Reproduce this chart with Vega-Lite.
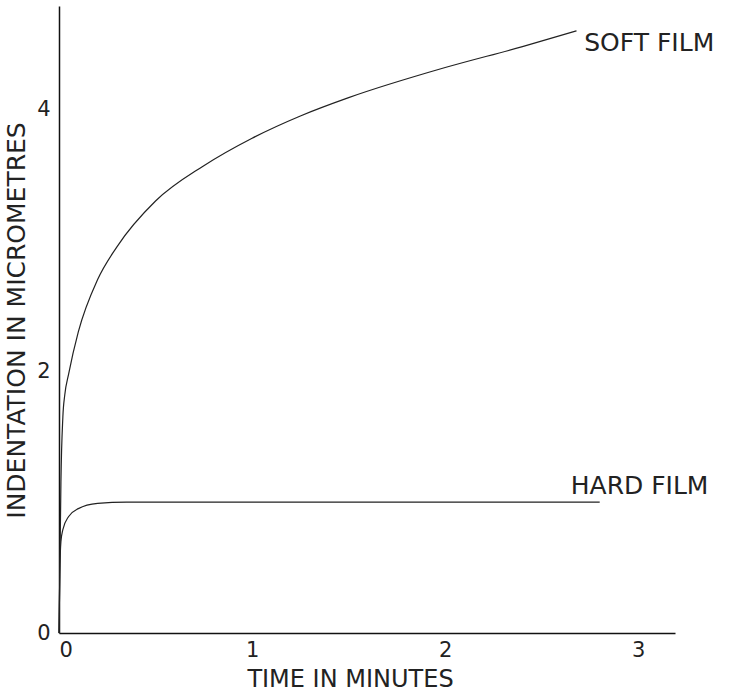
{
  "$schema": "https://vega.github.io/schema/vega-lite/v6.json",
  "width": 616,
  "height": 627,
  "autosize": {"type": "none"},
  "padding": {"left": 59, "top": 6, "right": 56, "bottom": 61},
  "background": "white",
  "config": {
    "view": {"stroke": null},
    "font": "DejaVu Sans",
    "axis": {"grid": false, "ticks": false, "domainColor": "#111", "domainWidth": 1.5, "labelColor": "#222", "titleColor": "#222", "labelFont": "DejaVu Sans", "titleFont": "DejaVu Sans", "labelFontWeight": "normal", "titleFontWeight": "normal", "labelFontSize": 21}
  },
  "datasets": {
    "curves": [
      {"film": "SOFT", "t": 0.0, "d": 0.0},
      {"film": "SOFT", "t": 0.005, "d": 0.55},
      {"film": "SOFT", "t": 0.01, "d": 1.15},
      {"film": "SOFT", "t": 0.02, "d": 1.65},
      {"film": "SOFT", "t": 0.03, "d": 1.82},
      {"film": "SOFT", "t": 0.05, "d": 1.98},
      {"film": "SOFT", "t": 0.1, "d": 2.3},
      {"film": "SOFT", "t": 0.2, "d": 2.7},
      {"film": "SOFT", "t": 0.3, "d": 2.95},
      {"film": "SOFT", "t": 0.5, "d": 3.3},
      {"film": "SOFT", "t": 0.75, "d": 3.57},
      {"film": "SOFT", "t": 1.0, "d": 3.78},
      {"film": "SOFT", "t": 1.25, "d": 3.95},
      {"film": "SOFT", "t": 1.5, "d": 4.09},
      {"film": "SOFT", "t": 2.0, "d": 4.32},
      {"film": "SOFT", "t": 2.4, "d": 4.48},
      {"film": "SOFT", "t": 2.68, "d": 4.6},
      {"film": "HARD", "t": 0.0, "d": 0.0},
      {"film": "HARD", "t": 0.004, "d": 0.45},
      {"film": "HARD", "t": 0.01, "d": 0.7},
      {"film": "HARD", "t": 0.02, "d": 0.79},
      {"film": "HARD", "t": 0.05, "d": 0.89},
      {"film": "HARD", "t": 0.1, "d": 0.95},
      {"film": "HARD", "t": 0.2, "d": 0.99},
      {"film": "HARD", "t": 0.35, "d": 1.0},
      {"film": "HARD", "t": 1.0, "d": 1.0},
      {"film": "HARD", "t": 2.0, "d": 1.0},
      {"film": "HARD", "t": 2.8, "d": 1.0}
    ],
    "labels": [
      {"text": "SOFT FILM", "t": 2.72, "d": 4.51},
      {"text": "HARD FILM", "t": 2.65, "d": 1.12}
    ]
  },
  "layer": [
    {
      "data": {"name": "curves"},
      "mark": {"type": "line", "color": "#222", "strokeWidth": 1.2, "interpolate": "monotone"},
      "encoding": {
        "x": {"field": "t", "type": "quantitative", "scale": {"domain": [0, 3.19], "nice": false},
          "axis": {"values": [0, 1, 2, 3], "format": "d", "labelPadding": 6, "title": "TIME IN MINUTES", "titleFontSize": 24, "titleX": 291, "titleY": 34, "titleBaseline": "top", "titleAlign": "center"}},
        "y": {"field": "d", "type": "quantitative", "scale": {"domain": [0, 4.79], "nice": false},
          "axis": {"values": [0, 2, 4], "format": "d", "labelPadding": 9, "title": "INDENTATION IN MICROMETRES", "titleFontSize": 25, "titleAngle": 270, "titleX": -43, "titleY": 314, "titleBaseline": "middle", "titleAlign": "center"}},
        "detail": {"field": "film"}
      }
    },
    {
      "data": {"name": "labels"},
      "mark": {"type": "text", "align": "left", "baseline": "middle", "fontSize": 25, "color": "#222", "font": "DejaVu Sans"},
      "encoding": {
        "x": {"field": "t", "type": "quantitative"},
        "y": {"field": "d", "type": "quantitative"},
        "text": {"field": "text"}
      }
    }
  ]
}
